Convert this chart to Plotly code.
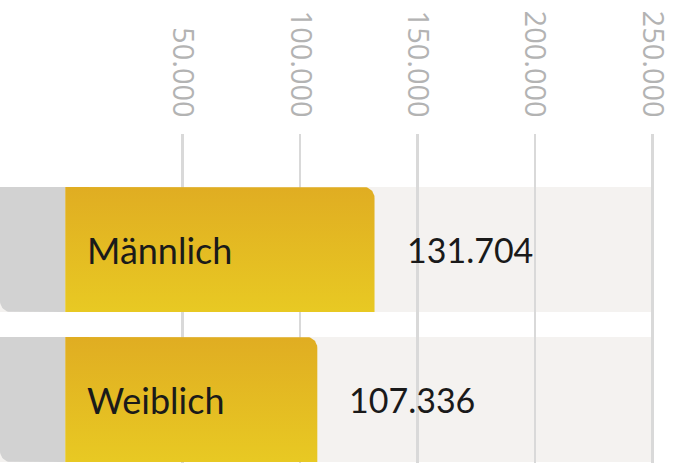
import math
import plotly.graph_objects as go

# ---- data ----
CATEGORIES = ["Männlich", "Weiblich"]
VALUES = [131704, 107336]
TICK_VALUES = [50000, 100000, 150000, 200000, 250000]
TICK_LABELS = ["50.000", "100.000", "150.000", "200.000", "250.000"]

# ---- layout constants ----
W, H = 680, 463
TOP = 134
X_MIN, X_MAX = -27800, 261800
Y_MIN, Y_MAX = -0.4233, 1.77
HALF = 0.4167
TRACK_END = TICK_VALUES[-1]

px_x = W / (X_MAX - X_MIN)
px_y = (H - TOP) / (Y_MAX - Y_MIN)
R = 11  # corner radius px
rx, ry = R / px_x, R / px_y

GOLD_TOP = "#e0ad22"
GOLD_BOT = "#e8c923"
GREY = "#d2d2d2"
TRACK = "#f4f2f0"


def arc(cx, cy, a0, a1, n=12):
    pts = []
    for k in range(n + 1):
        a = a0 + (a1 - a0) * k / n
        pts.append((cx + rx * math.cos(a), cy + ry * math.sin(a)))
    return pts


fig = go.Figure()
shapes = []
annotations = []
n = len(CATEGORIES)
for i, (cat, val) in enumerate(zip(CATEGORIES, VALUES)):
    yc = n - 1 - i
    yt, yb = yc + HALF, yc - HALF
    shapes.append(dict(type="rect", xref="x", yref="y", x0=X_MIN, x1=TRACK_END,
                       y0=yb, y1=yt, fillcolor=TRACK, line=dict(width=0), layer="below"))
    # grey segment (negative side) with rounded bottom-left
    g = [(X_MIN, yt), (0, yt), (0, yb), (X_MIN + rx, yb)]
    g += arc(X_MIN + rx, yb + ry, -math.pi / 2, -math.pi)
    g.append((X_MIN, yt))
    fig.add_trace(go.Scatter(x=[p[0] for p in g], y=[p[1] for p in g], mode="lines",
                             line=dict(width=0), fill="toself", fillcolor=GREY,
                             hoverinfo="skip", showlegend=False))
    # gold bar with rounded top-right
    b = [(0, yt), (val - rx, yt)]
    b += arc(val - rx, yt - ry, math.pi / 2, 0)
    b += [(val, yb), (0, yb), (0, yt)]
    fig.add_trace(go.Scatter(x=[p[0] for p in b], y=[p[1] for p in b], mode="lines",
                             line=dict(width=0), fill="toself",
                             fillgradient=dict(type="vertical",
                                               colorscale=[[0, GOLD_BOT], [1, GOLD_TOP]]),
                             hoverinfo="skip", showlegend=False))
    annotations.append(dict(x=0, y=yc, xref="x", yref="y", text=cat, showarrow=False,
                            xanchor="left", yanchor="middle", xshift=20,
                            font=dict(family="Lato", size=36, color="#1a1a1a")))
    annotations.append(dict(x=val, y=yc, xref="x", yref="y",
                            text=f"{val:,}".replace(",", "."), showarrow=False,
                            xanchor="left", yanchor="middle", xshift=30,
                            font=dict(family="Lato", size=34, color="#1a1a1a")))

fig.update_layout(
    width=W, height=H,
    margin=dict(l=0, r=0, t=TOP, b=0),
    paper_bgcolor="white", plot_bgcolor="white",
    shapes=shapes, annotations=annotations,
    xaxis=dict(range=[X_MIN, X_MAX], side="top", tickvals=TICK_VALUES,
               ticktext=TICK_LABELS, tickangle=90, showgrid=True,
               gridcolor="#d9d9d9", gridwidth=2.5, zeroline=False, showline=False,
               ticks="", ticklabelstandoff=11,
               tickfont=dict(family="Open Sans", size=29, color="#b3b3b3")),
    yaxis=dict(range=[Y_MIN, Y_MAX], visible=False, showgrid=False, zeroline=False),
    showlegend=False,
)
fig.write_html("out.html", config={"displayModeBar": False, "staticPlot": True},
               post_script="document.body.style.margin='0';document.body.style.overflow='hidden';")
